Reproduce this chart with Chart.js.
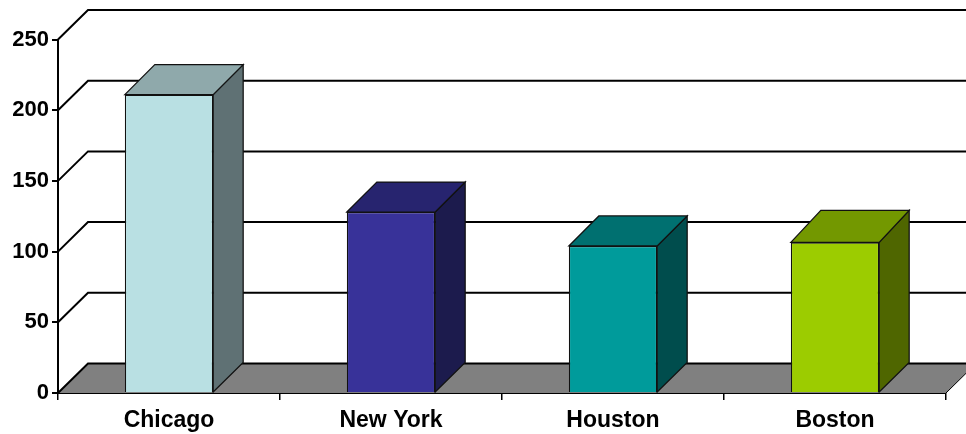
<!DOCTYPE html>
<html>
<head>
<meta charset="utf-8">
<style>
html,body{margin:0;padding:0;background:#fff}
#wrap{width:966px;height:434px;position:relative;overflow:hidden}
</style>
<script src="https://cdn.jsdelivr.net/npm/chart.js@4/dist/chart.umd.min.js"></script>
</head>
<body>
<div id="wrap"><canvas id="chart" width="966" height="434"></canvas></div>
<script>
// City totals shown as extruded columns
const categories = ['Chicago', 'New York', 'Houston', 'Boston'];
const values = [211, 128, 104, 106.5];
const yTicks = [0, 50, 100, 150, 200, 250];

// Face colours for each column
const frontColors = ['#B9E0E3', '#383299', '#009B9B', '#9CCC00'];
const topColors = ['#8FA9AB', '#27246F', '#007070', '#739800'];
const sideColors = ['#5F7174', '#1C1B4D', '#004D4D', '#4F6600'];
// How far each column's top face rises towards the back wall
const topRise = [30, 30, 30, 32];

const DEPTH_X = 30;
const DEPTH_Y = 29.5;
const INK = '#000';
const EDGE = '#111';

function poly(ctx, pts, fill, stroke, width) {
  ctx.beginPath();
  pts.forEach((p, i) => i ? ctx.lineTo(p[0], p[1]) : ctx.moveTo(p[0], p[1]));
  ctx.closePath();
  if (fill) { ctx.fillStyle = fill; ctx.fill(); }
  if (stroke) { ctx.strokeStyle = stroke; ctx.lineWidth = width; ctx.stroke(); }
}

// Back wall rules, sloped side-wall rules, floor, and the extruded faces of each column
const extrusion = {
  id: 'extrusion',
  beforeDatasetsDraw(chart) {
    const { ctx, scales: { x, y } } = chart;
    const left = x.left, right = x.right, base = y.getPixelForValue(0);
    ctx.save();
    ctx.lineJoin = 'miter';

    poly(ctx, [[left, base], [left + DEPTH_X, base - DEPTH_Y],
               [right + DEPTH_X, base - DEPTH_Y], [right, base]], '#808080');

    ctx.strokeStyle = INK;
    ctx.lineWidth = 2;
    yTicks.forEach(v => {
      const py = y.getPixelForValue(v);
      ctx.beginPath();
      ctx.moveTo(left, py);
      ctx.lineTo(left + DEPTH_X, py - DEPTH_Y);
      ctx.lineTo(right + DEPTH_X, py - DEPTH_Y);
      ctx.stroke();
    });
    ctx.lineWidth = 1;
    ctx.beginPath();
    ctx.moveTo(right, base);
    ctx.lineTo(right + DEPTH_X, base - DEPTH_Y);
    ctx.stroke();

    chart.getDatasetMeta(0).data.forEach((bar, i) => {
      const l = bar.x - bar.width / 2, r = bar.x + bar.width / 2, t = bar.y, b = bar.base;
      const rise = topRise[i];
      poly(ctx, [[r, t], [r + DEPTH_X, t - rise], [r + DEPTH_X, b - DEPTH_Y], [r, b]],
           sideColors[i], EDGE, 1.25);
      poly(ctx, [[l, t], [l + DEPTH_X, t - rise], [r + DEPTH_X, t - rise], [r, t]],
           topColors[i], EDGE, 1.25);
    });
    ctx.restore();
  }
};

new Chart(document.getElementById('chart'), {
  type: 'bar',
  data: {
    labels: categories,
    datasets: [{
      data: values,
      backgroundColor: frontColors,
      borderColor: EDGE,
      borderWidth: 1.25,
      barPercentage: 0.398,
      categoryPercentage: 1
    }]
  },
  plugins: [extrusion],
  options: {
    responsive: false,
    animation: false,
    layout: { padding: { top: 39.5, right: 20, left: 0, bottom: 0 } },
    plugins: { legend: { display: false }, tooltip: { enabled: false } },
    scales: {
      x: {
        afterFit(s) { s.height = 41; },
        grid: { offset: true, drawOnChartArea: false, color: INK, tickLength: 7, lineWidth: 1.5 },
        border: { color: INK, width: 2 },
        ticks: { color: INK, padding: 7, maxRotation: 0,
                 font: { family: 'Liberation Sans', weight: 'bold', size: 23 } }
      },
      y: {
        min: 0,
        max: 250,
        afterFit(s) { s.width = 58; },
        afterBuildTicks(s) { s.ticks = yTicks.map(v => ({ value: v })); },
        grid: { drawOnChartArea: false, color: INK, tickLength: 6, lineWidth: 2 },
        border: { color: INK, width: 2 },
        ticks: { color: INK, padding: 3,
                 font: { family: 'Liberation Sans', weight: 'bold', size: 22 } }
      }
    }
  }
});
</script>
</body>
</html>
